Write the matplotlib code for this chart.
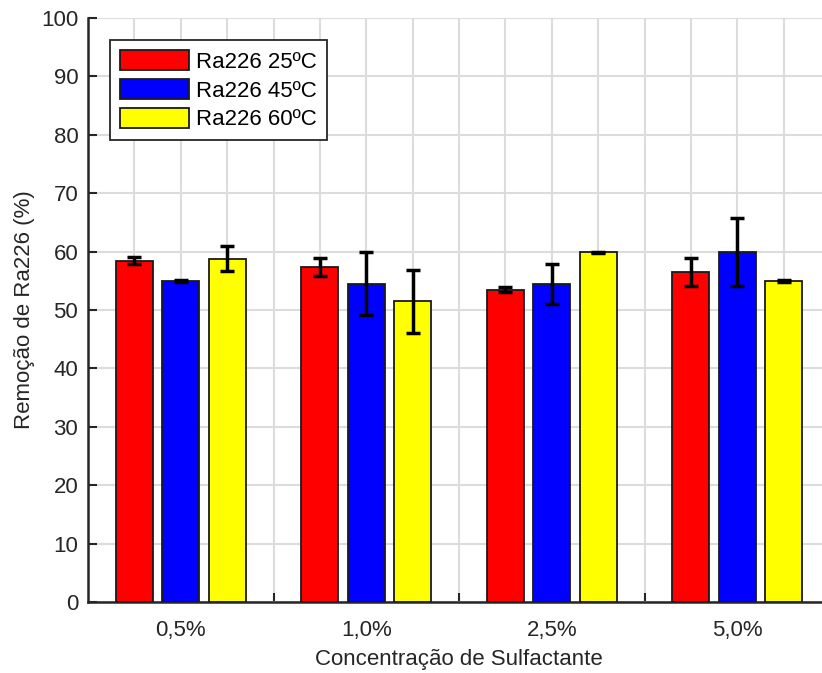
import numpy as np
import matplotlib.pyplot as plt

# data
groups = ['0,5%', '1,0%', '2,5%', '5,0%']
series = ['Ra226 25ºC', 'Ra226 45ºC', 'Ra226 60ºC']
colors = ['#ff0000', '#0000ff', '#ffff00']
r25 = [58.4, 57.4, 53.5, 56.5]
r25_err = [0.6, 1.5, 0.5, 2.4]
r45 = [55.0, 54.5, 54.5, 59.9]
r45_err = [0.15, 5.4, 3.45, 5.85]
r60 = [58.8, 51.5, 59.9, 55.0]
r60_err = [2.1, 5.4, 0.1, 0.15]

plt.rcParams['font.family'] = ['Liberation Sans', 'DejaVu Sans']
fs = 16

fig = plt.figure(figsize=(8.22, 6.73), dpi=100)
ax = fig.add_axes([88/822, 71/673, 742/822, 584/673])

x = np.arange(1, len(groups) + 1)
offs = [-0.25, 0.0, 0.25]
w = 0.2
for vals, errs, c, lab, o in zip([r25, r45, r60], [r25_err, r45_err, r60_err], colors, series, offs):
    ax.bar(x + o, vals, w, color=c, edgecolor='#1a1a1a', linewidth=1.3, label=lab, zorder=3)
    ax.errorbar(x + o, vals, yerr=errs, fmt='none', ecolor='black', elinewidth=2.5,
                capsize=5, capthick=2.5, zorder=4)

ax.set_xlim(0.5, 4.5)
ax.set_ylim(0, 100)
ax.set_yticks(np.arange(0, 101, 10))
ax.set_xticks(x)
ax.set_xticklabels(groups)
ax.set_xticks(np.arange(1.5, 4.5, 1.0), minor=True)

# grid: horizontal at y ticks, vertical at bar centres and group boundaries
ax.grid(axis='y', color='#dcdcdc', linewidth=1.5, zorder=0)
vlines = np.concatenate([np.add.outer(x, offs).ravel(), np.arange(1.5, 4.5, 1.0)])
for v in vlines:
    ax.axvline(v, color='#dcdcdc', linewidth=1.5, zorder=0)

for s in ['top', 'right']:
    ax.spines[s].set_visible(False)
for s in ['left', 'bottom']:
    ax.spines[s].set_linewidth(1.8)
    ax.spines[s].set_color('#262626')

ax.tick_params(axis='y', which='major', direction='in', length=6.5, width=1.5,
               labelsize=fs, colors='#262626', pad=7)
ax.tick_params(axis='x', which='major', length=0, labelsize=fs, labelcolor='#262626', pad=13)
ax.tick_params(axis='x', which='minor', direction='in', length=6.5, width=1.5, color='#262626')

ax.set_xlabel('Concentração de Sulfactante', fontsize=fs, color='#262626', labelpad=6)
ax.set_ylabel('Remoção de Ra226 (%)', fontsize=fs, color='#262626', labelpad=4)

leg = ax.legend(loc='upper left', bbox_to_anchor=(0.03, 0.962), borderaxespad=0,
                fontsize=fs, handlelength=3.1, handleheight=1.0, labelspacing=0.28,
                handletextpad=0.3, borderpad=0.45, fancybox=False, framealpha=1)
leg.get_frame().set_edgecolor('#262626')
leg.get_frame().set_linewidth(1.3)

fig.savefig('out.png', dpi=100)
